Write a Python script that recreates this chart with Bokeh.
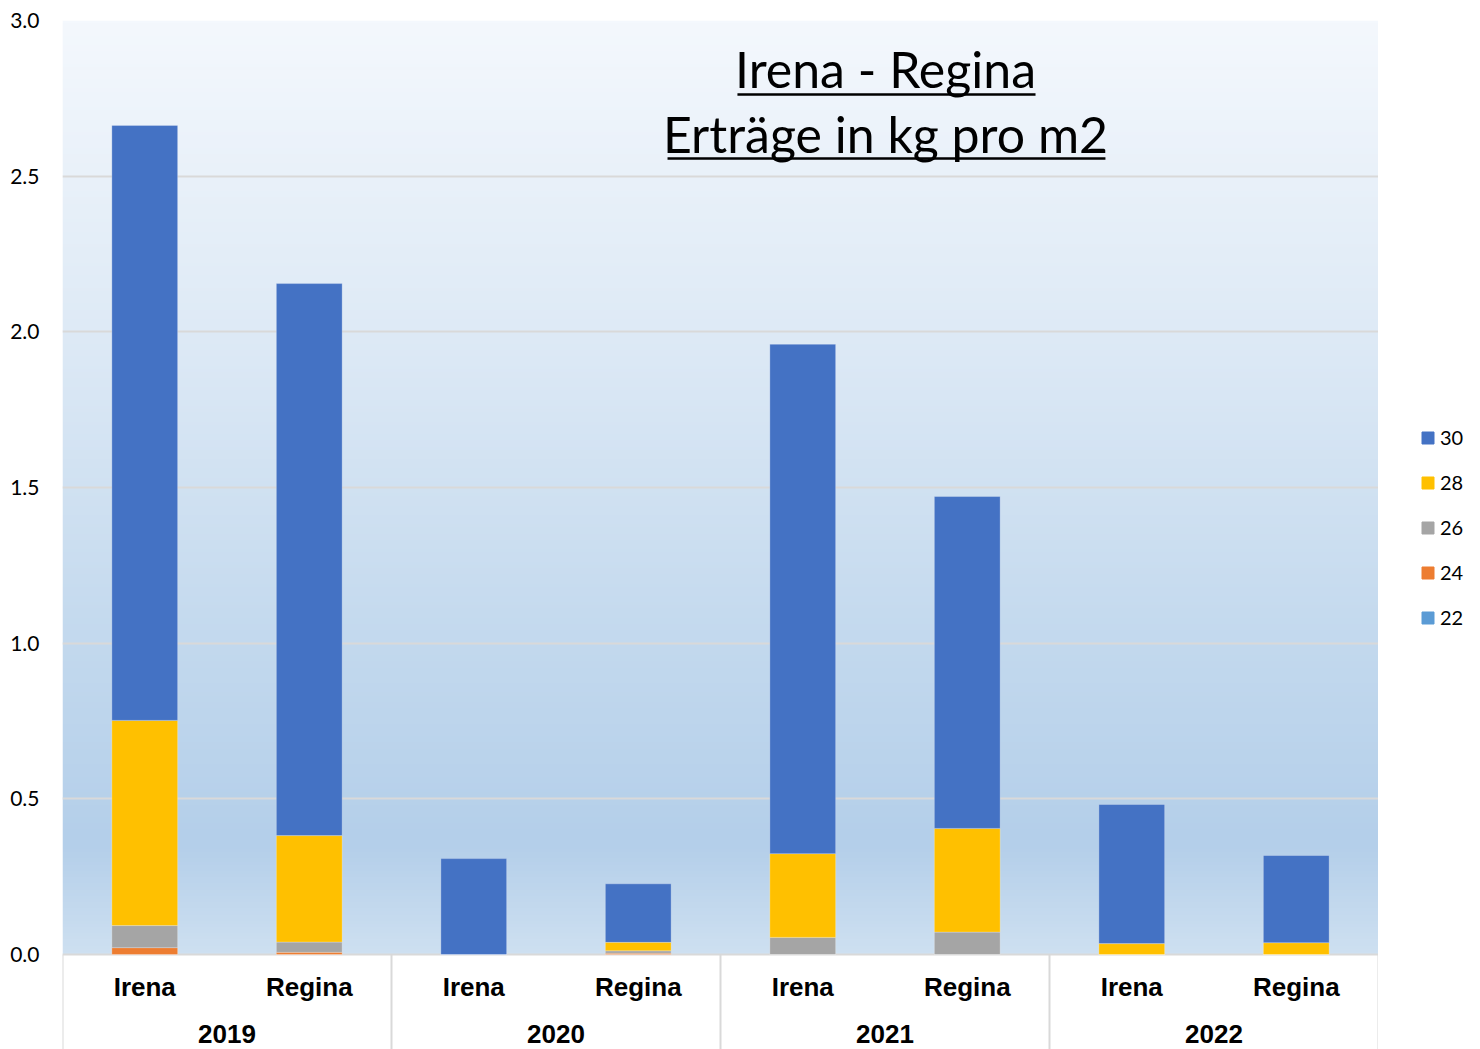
import numpy as np
from bokeh.plotting import figure
from bokeh.layouts import row
from bokeh.models import (FactorRange, Range1d, ColumnDataSource, FixedTicker,
                          NumeralTickFormatter, Legend, LegendItem)
from bokeh.core.properties import value
from bokeh.embed import file_html
from bokeh.resources import INLINE

# ---------------- data ----------------
years = ["2019", "2020", "2021", "2022"]
varieties = ["Irena", "Regina"]
series = ["22", "24", "26", "28", "30"]
colors = ["#5b9bd5", "#ed7d31", "#a5a5a5", "#ffc000", "#4472c4"]

v22 = [0.0, 0.0, 0.0, 0.0, 0.0, 0.0, 0.0, 0.0]
v24 = [0.022, 0.007, 0.0, 0.004, 0.0, 0.0, 0.0, 0.0]
v26 = [0.071, 0.033, 0.0, 0.008, 0.055, 0.072, 0.0, 0.0]
v28 = [0.659, 0.342, 0.0, 0.027, 0.269, 0.333, 0.035, 0.038]
v30 = [1.911, 1.773, 0.308, 0.188, 1.636, 1.066, 0.447, 0.280]

y_ticks = [0.0, 0.5, 1.0, 1.5, 2.0, 2.5, 3.0]
title_lines = ["Irena - Regina", "Erträge in kg pro m2"]

factors = [(y, v) for y in years for v in varieties]
stackers = ["s22", "s24", "s26", "s28", "s30"]

source = ColumnDataSource(data=dict(x=factors, s22=v22, s24=v24, s26=v26, s28=v28, s30=v30))

x_range = FactorRange(*factors, factor_padding=0, group_padding=0, range_padding=0)
y_range = Range1d(-0.3051, 3.0)

p = figure(width=1378, height=1049, x_range=x_range, y_range=y_range,
           output_backend="svg", toolbar_location=None, x_axis_location=None,
           min_border_left=62, min_border_right=0, min_border_top=20, min_border_bottom=0)
p.outline_line_color = None
p.background_fill_color = "white"
p.border_fill_color = "white"

# ---------------- gradient background ----------------
stops_y = np.array([0.0, 0.35, 1.0, 2.0, 3.0])
stops_c = np.array([[206, 224, 241], [180, 207, 234], [195, 217, 238],
                    [222, 234, 246], [244, 248, 253]], dtype=float)
ny = 300
ys = np.linspace(0, 3, ny)
img = np.zeros((ny, 2), dtype=np.uint32)
view = img.view(dtype=np.uint8).reshape((ny, 2, 4))
for ch in range(3):
    col = np.interp(ys, stops_y, stops_c[:, ch]).astype(np.uint8)
    view[:, :, ch] = col[:, None]
view[:, :, 3] = 255
p.image_rgba(image=[img], x=0, y=0, dw=len(factors), dh=3, level="image")

# ---------------- grid & axis ----------------
p.xgrid.visible = False
p.ygrid.grid_line_color = "#d9d9d9"
p.ygrid.grid_line_width = 2
p.yaxis.ticker = FixedTicker(ticks=y_ticks)
p.yaxis.formatter = NumeralTickFormatter(format="0.0")
p.yaxis.axis_line_color = None
p.yaxis.major_tick_line_color = None
p.yaxis.minor_tick_line_color = None
p.yaxis.major_tick_out = 0
p.yaxis.major_tick_in = 0
p.yaxis.minor_tick_out = 0
p.yaxis.major_label_text_font = "Lato"
p.yaxis.major_label_text_font_size = "21px"
p.yaxis.major_label_text_color = "#000000"
p.yaxis.major_label_standoff = 23

# ---------------- bars ----------------
renderers = p.vbar_stack(stackers, x="x", width=0.4,
                         color=colors, line_color="white", line_alpha=0.25,
                         line_width=1, source=source)

# ---------------- bottom labels & separators ----------------
n = len(factors)
sep_x = [0, 2, 4, 6, 8]
p.segment(x0=sep_x, y0=[0] * len(sep_x), x1=sep_x, y1=[-0.4] * len(sep_x),
          line_color="#d9d9d9", line_width=2)

p.text(x=factors, y=[-0.1028] * n, text=[f[1] for f in factors],
       text_font=value("Liberation Sans"), text_font_style="bold",
       text_font_size="26px", text_align="center", text_baseline="middle",
       text_color="#000000")
p.text(x=years, y=[-0.254] * len(years), text=years,
       text_font=value("Liberation Sans"), text_font_style="bold",
       text_font_size="26px", text_align="center", text_baseline="middle",
       text_color="#000000")

# ---------------- title (underlined) ----------------
p.text(x=[5.003, 5.003], y=[2.843, 2.637], text=title_lines,
       text_font=value("Lato"), text_font_size="50px", text_align="center",
       text_baseline="alphabetic", text_color="#000000")
p.segment(x0=[4.103, 3.678], y0=[2.762, 2.557], x1=[5.915, 6.340], y1=[2.762, 2.557],
          line_color="#000000", line_width=2.5)

# ---------------- legend (separate narrow panel) ----------------
# the same stacked bars, kept outside this panel's visible y range, feed the legend glyphs
pl = figure(width=102, height=1049, output_backend="svg", toolbar_location=None,
            x_range=FactorRange(*factors), y_range=Range1d(100, 101),
            x_axis_location=None, y_axis_location=None,
            min_border_left=0, min_border_right=0, min_border_top=0, min_border_bottom=0)
pl.outline_line_color = None
pl.grid.visible = False
pl.background_fill_color = "white"
pl.border_fill_color = "white"
leg_r = pl.vbar_stack(stackers, x="x", width=0.4, color=colors, source=source)
items = [LegendItem(label=s, renderers=[r]) for s, r in zip(series, leg_r)][::-1]
legend = Legend(items=items, location=(42, 420), margin=0, padding=0,
                glyph_width=15, glyph_height=15, label_height=24, spacing=21,
                label_standoff=5, label_text_font="Lato", label_text_font_size="20px",
                label_text_color="#000000", border_line_color=None,
                background_fill_alpha=0)
pl.add_layout(legend, "center")

layout = row(p, pl, spacing=0)
open("out.html", "w").write(file_html(layout, INLINE))
